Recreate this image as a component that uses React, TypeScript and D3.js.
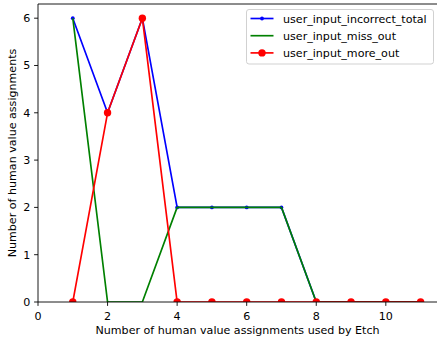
import React from "react";
import * as d3 from "d3";

const xValues = [1, 2, 3, 4, 5, 6, 7, 8, 9, 10, 11];
const incorrectTotal = [6, 4, 6, 2, 2, 2, 2, 0, 0, 0, 0];
const missOut = [6, 0, 0, 2, 2, 2, 2, 0, 0, 0, 0];
const moreOut = [0, 4, 6, 0, 0, 0, 0, 0, 0, 0, 0];
const xTicks = [0, 2, 4, 6, 8, 10];
const yTicks = [0, 1, 2, 3, 4, 5, 6];
const seriesNames = ["user_input_incorrect_total", "user_input_miss_out", "user_input_more_out"];

const W = 437;
const H = 341;
const left = 38;
const right = 438;
const top = 4;
const bottom = 302;
const font = "DejaVu Sans, sans-serif";
const fs = 11.1;

export default function App() {
  const x = d3.scaleLinear().domain([0, 11.5]).range([left, right]);
  const y = d3.scaleLinear().domain([0, 6.3]).range([bottom, top]);
  const line = (vals: number[]) =>
    d3.line<number>().x((_, i) => x(xValues[i])).y((v) => y(v))(vals) || "";

  const series = [
    { name: seriesNames[0], vals: incorrectTotal, color: "#0000ff", r: 1.9 },
    { name: seriesNames[1], vals: missOut, color: "#008000", r: 0 },
    { name: seriesNames[2], vals: moreOut, color: "#ff0000", r: 3.7 },
  ];

  return (
    <svg width={W} height={H} style={{ position: "absolute", left: 0, top: 0, background: "#fff" }}>
      <defs>
        <clipPath id="plot">
          <rect x={left} y={top} width={right - left} height={bottom - top} />
        </clipPath>
      </defs>
      <rect x={0} y={0} width={W} height={H} fill="#fff" />
      <g clipPath="url(#plot)">
        {series.map((s) => (
          <g key={s.name}>
            <path d={line(s.vals)} fill="none" stroke={s.color} strokeWidth={1.67} strokeLinejoin="round" />
            {s.r > 0 &&
              s.vals.map((v, i) => (
                <circle key={i} cx={x(xValues[i])} cy={y(v)} r={s.r} fill={s.color} />
              ))}
          </g>
        ))}
      </g>
      {/* spines */}
      <line x1={left} x2={left} y1={top} y2={bottom} stroke="#000" strokeWidth={0.9} />
      <line x1={left} x2={right} y1={bottom} y2={bottom} stroke="#000" strokeWidth={0.9} />
      <line x1={left} x2={right} y1={top} y2={top} stroke="#000" strokeWidth={0.9} />
      <line x1={right} x2={right} y1={top} y2={bottom} stroke="#000" strokeWidth={0.9} />
      {/* x ticks */}
      {xTicks.map((t) => (
        <g key={t}>
          <line x1={x(t)} x2={x(t)} y1={bottom} y2={bottom + 3.9} stroke="#000" strokeWidth={0.9} />
          <text x={x(t)} y={bottom + 17.5} fontSize={fs} fontFamily={font} textAnchor="middle" fill="#000">
            {t}
          </text>
        </g>
      ))}
      {/* y ticks */}
      {yTicks.map((t) => (
        <g key={t}>
          <line x1={left - 3.9} x2={left} y1={y(t)} y2={y(t)} stroke="#000" strokeWidth={0.9} />
          <text x={left - 7.8} y={y(t) + 4} fontSize={fs} fontFamily={font} textAnchor="end" fill="#000">
            {t}
          </text>
        </g>
      ))}
      <text x={(left + right) / 2 - 0.5} y={334} fontSize={fs} fontFamily={font} textAnchor="middle" fill="#000">
        Number of human value assignments used by Etch
      </text>
      <text
        transform={`translate(15.5, ${(top + bottom) / 2}) rotate(-90)`}
        fontSize={fs}
        fontFamily={font}
        textAnchor="middle"
        fill="#000"
      >
        Number of human value assignments
      </text>
      {/* legend */}
      <g>
        <rect x={246.5} y={9.5} width={187} height={54.5} rx={2.5} fill="#fff" fillOpacity={0.8} stroke="#ccc" strokeWidth={0.9} />
        {series.map((s, i) => {
          const ly = 18.5 + i * 17.2;
          return (
            <g key={s.name}>
              <line x1={250.5} x2={273.5} y1={ly} y2={ly} stroke={s.color} strokeWidth={1.67} />
              {s.r > 0 && <circle cx={262} cy={ly} r={s.r} fill={s.color} />}
              <text x={283} y={ly + 4} fontSize={fs} fontFamily={font} fill="#000">
                {s.name}
              </text>
            </g>
          );
        })}
      </g>
    </svg>
  );
}
